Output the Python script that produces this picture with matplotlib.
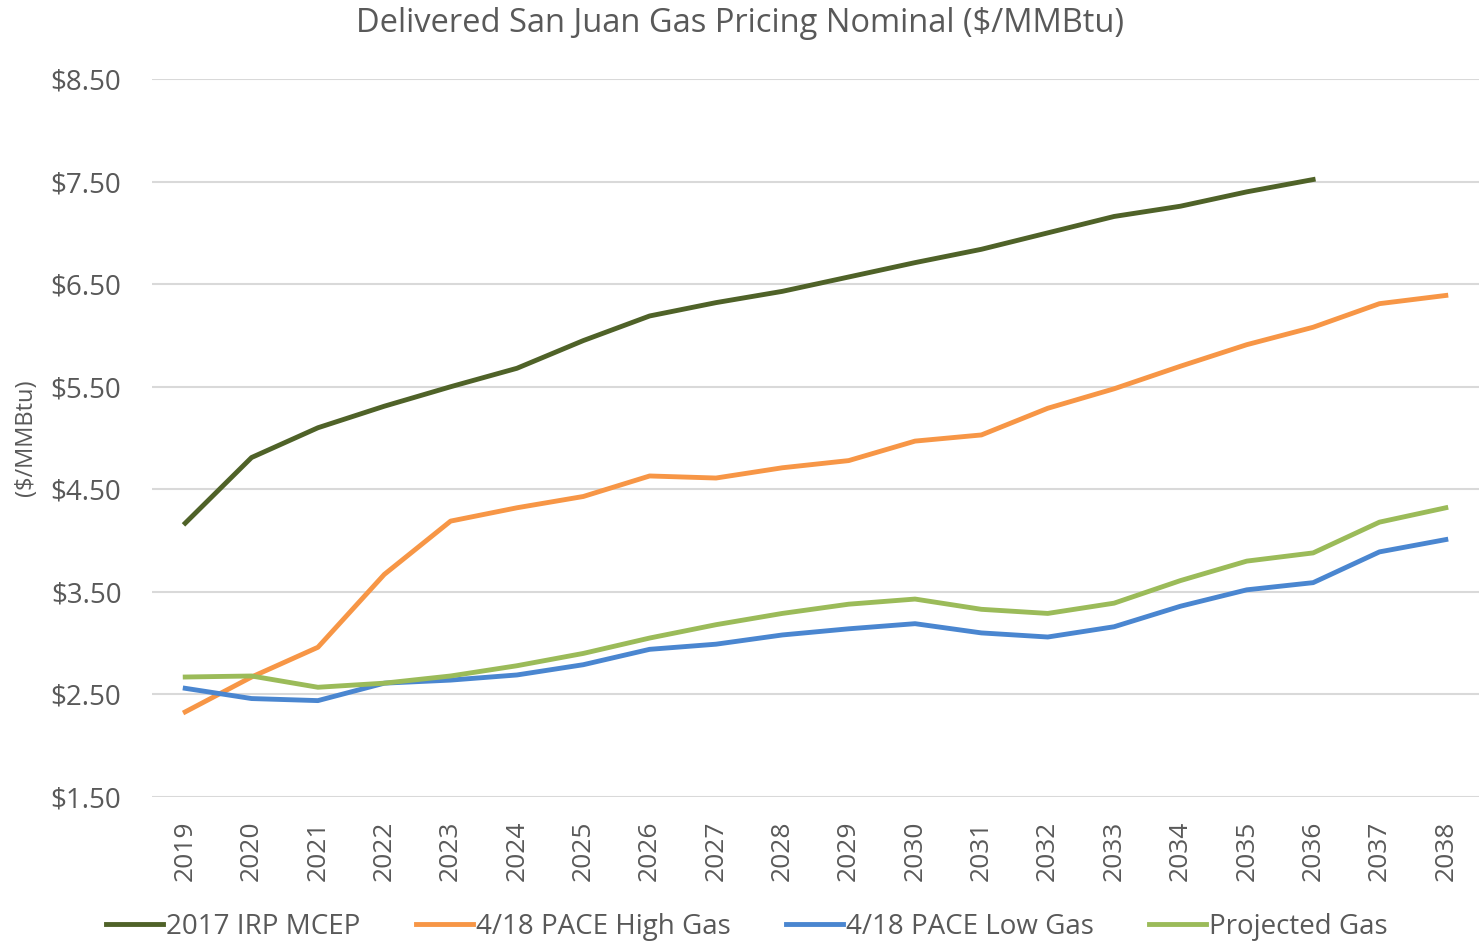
import matplotlib
matplotlib.use('Agg')
import matplotlib.pyplot as plt

plt.rcParams['font.family'] = ['Open Sans', 'DejaVu Sans']

years = [str(y) for y in range(2019, 2039)]

# 2017 IRP ends in 2036
irp_mcep = [4.17, 4.81, 5.10, 5.31, 5.50, 5.68, 5.95, 6.19, 6.32, 6.43,
            6.57, 6.71, 6.84, 7.00, 7.16, 7.26, 7.40, 7.52]
pace_high = [2.33, 2.67, 2.96, 3.67, 4.19, 4.32, 4.43, 4.63, 4.61, 4.71,
             4.78, 4.97, 5.03, 5.29, 5.48, 5.70, 5.91, 6.08, 6.31, 6.39]
pace_low = [2.56, 2.46, 2.44, 2.61, 2.64, 2.69, 2.79, 2.94, 2.99, 3.08,
            3.14, 3.19, 3.10, 3.06, 3.16, 3.36, 3.52, 3.59, 3.89, 4.01]
projected = [2.67, 2.68, 2.57, 2.61, 2.68, 2.78, 2.90, 3.05, 3.18, 3.29,
             3.38, 3.43, 3.33, 3.29, 3.39, 3.61, 3.80, 3.88, 4.18, 4.32]

yticks = [1.5, 2.5, 3.5, 4.5, 5.5, 6.5, 7.5, 8.5]
grey = '#595959'

fig = plt.figure(figsize=(14.79, 9.43), dpi=100)
ax = fig.add_axes([0.1028, 0.1548, 0.8972, 0.7614])

x = list(range(len(years)))
lw = 3.5
ax.plot(x[:len(irp_mcep)], irp_mcep, color='#4F6228', lw=lw, label='2017 IRP MCEP')
ax.plot(x, pace_high, color='#F79646', lw=lw, label='4/18 PACE High Gas')
ax.plot(x, pace_low, color='#4A86D0', lw=lw, label='4/18 PACE Low Gas')
ax.plot(x, projected, color='#9BBB59', lw=lw, label='Projected Gas')

ax.set_xlim(-0.5, len(years) - 0.5)
ax.set_ylim(1.5, 8.5)
ax.set_yticks(yticks)
ax.set_yticklabels([f'${v:.2f}' for v in yticks])
ax.set_xticks(x)
ax.set_xticklabels(years, rotation=90)
ax.tick_params(axis='both', colors=grey, length=0)
ax.tick_params(axis='y', pad=22, labelsize=20)
ax.tick_params(axis='x', pad=17, labelsize=19)
ax.grid(axis='y', color='#D9D9D9', lw=1.5)
ax.set_axisbelow(True)
for s in ax.spines.values():
    s.set_visible(False)

ax.set_ylabel('($/MMBtu)', color=grey, fontsize=17, labelpad=9)
fig.suptitle('Delivered San Juan Gas Pricing Nominal ($/MMBtu)', color=grey,
             fontsize=23.5, y=0.993)

fig.legend(loc='center', ncol=4, frameon=False, fontsize=20,
           labelcolor=grey, bbox_to_anchor=(0.505, 0.017), handlelength=2.05,
           handletextpad=0.1, columnspacing=2.0)

fig.savefig('out.png', dpi=100)
